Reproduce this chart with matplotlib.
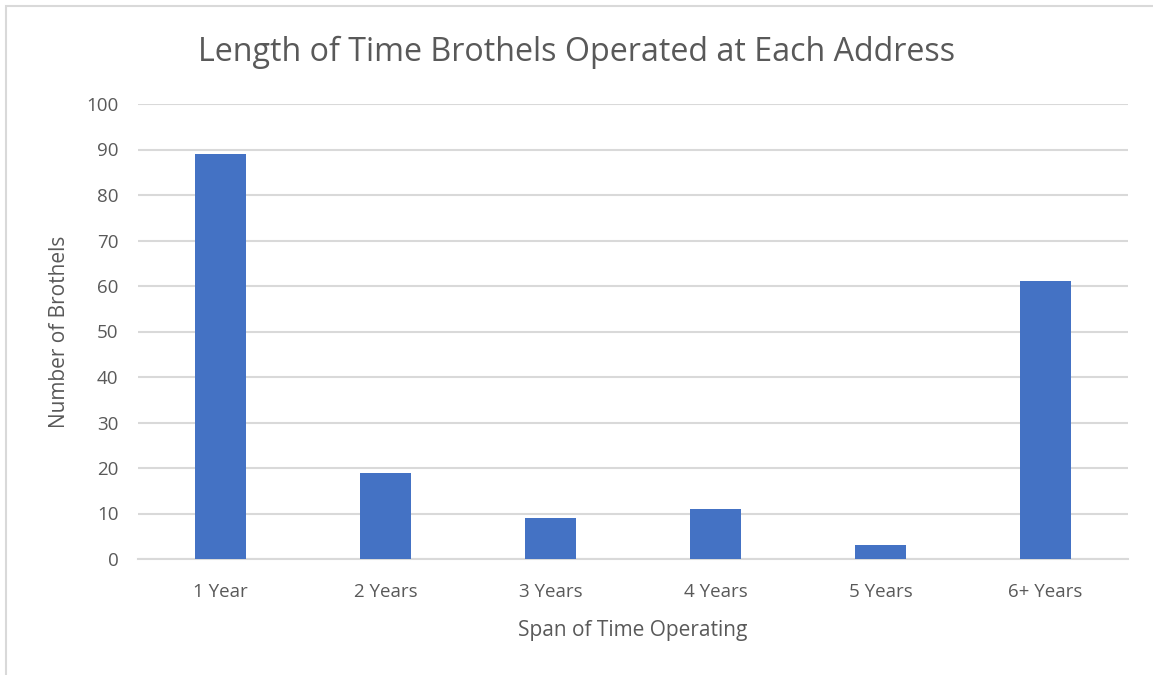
import matplotlib
matplotlib.use("Agg")
import matplotlib.pyplot as plt
from matplotlib.patches import Rectangle

categories = ["1 Year", "2 Years", "3 Years", "4 Years", "5 Years", "6+ Years"]
counts = [89, 19, 9, 11, 3, 61]
yticks = [0, 10, 20, 30, 40, 50, 60, 70, 80, 90, 100]

plt.rcParams['font.family'] = ['Open Sans', 'DejaVu Sans']
txt = '#595959'
grid = '#d9d9d9'
bar_color = '#4472c4'

fig = plt.figure(figsize=(11.53, 6.75), dpi=100)
fig.patches.append(Rectangle((6/1153, -0.1), 1.2, 1 - 6/675 + 0.1, transform=fig.transFigure,
                             fill=False, edgecolor=grid, linewidth=1.5))
ax = fig.add_axes([138/1153, 1 - 559/675, 990/1153, 455/675])
x = list(range(len(categories)))
ax.bar(x, counts, width=0.315, color=bar_color, zorder=3)
ax.set_xlim(-0.5, len(categories) - 0.5)
ax.set_ylim(0, 100)
ax.set_yticks(yticks)
ax.set_xticks(x)
ax.set_xticklabels(categories)
ax.yaxis.grid(True, color=grid, linewidth=1.5, zorder=0)
ax.set_axisbelow(True)
for s in ['top', 'right', 'left']:
    ax.spines[s].set_visible(False)
ax.spines['bottom'].set_color(grid)
ax.spines['bottom'].set_linewidth(1.5)
ax.tick_params(axis='both', length=0, colors=txt, labelsize=13.5)
ax.tick_params(axis='y', pad=14)
ax.tick_params(axis='x', pad=17)
ax.set_xlabel("Span of Time Operating", color=txt, fontsize=15, labelpad=14)
ax.set_ylabel("Number of Brothels", color=txt, fontsize=15, labelpad=12)
fig.text(0.5, 1 - 52/675, "Length of Time Brothels Operated at Each Address", color=txt,
         fontsize=23.2, ha='center', va='center')
fig.savefig("out.png", dpi=100)
